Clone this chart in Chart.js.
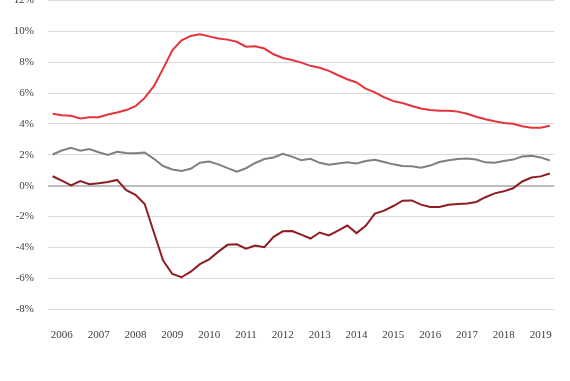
<!DOCTYPE html>
<html>
<head>
<meta charset="utf-8">
<script src="https://cdn.jsdelivr.net/npm/chart.js@4.4.0/dist/chart.umd.min.js"></script>
<style>
    html, body {
        margin: 0;
        padding: 0;
        background: #ffffff;
        overflow: hidden;
    }
    #wrap {
        position: absolute;
        left: 0;
        top: -20px;
        width: 570px;
        height: 401px;
    }
</style>
</head>
<body>
<div id="wrap"><canvas id="lineChart"></canvas></div>
<script>
// Quarters, 2005Q4 to 2019Q2
const quarters = [
    '2005Q4',
    '2006Q1', '2006Q2', '2006Q3', '2006Q4',
    '2007Q1', '2007Q2', '2007Q3', '2007Q4',
    '2008Q1', '2008Q2', '2008Q3', '2008Q4',
    '2009Q1', '2009Q2', '2009Q3', '2009Q4',
    '2010Q1', '2010Q2', '2010Q3', '2010Q4',
    '2011Q1', '2011Q2', '2011Q3', '2011Q4',
    '2012Q1', '2012Q2', '2012Q3', '2012Q4',
    '2013Q1', '2013Q2', '2013Q3', '2013Q4',
    '2014Q1', '2014Q2', '2014Q3', '2014Q4',
    '2015Q1', '2015Q2', '2015Q3', '2015Q4',
    '2016Q1', '2016Q2', '2016Q3', '2016Q4',
    '2017Q1', '2017Q2', '2017Q3', '2017Q4',
    '2018Q1', '2018Q2', '2018Q3', '2018Q4',
    '2019Q1', '2019Q2'
];

// red line
const redSeries = [
    4.66, 4.56, 4.53, 4.36, 4.43, 4.43, 4.61, 4.74, 4.90, 5.15,
    5.69, 6.45, 7.59, 8.78, 9.42, 9.71, 9.82, 9.68, 9.54, 9.47,
    9.33, 9.01, 9.04, 8.89, 8.52, 8.28, 8.15, 7.98, 7.77, 7.64,
    7.44, 7.16, 6.90, 6.69, 6.29, 6.05, 5.73, 5.48, 5.36, 5.17,
    5.00, 4.90, 4.86, 4.86, 4.80, 4.66, 4.47, 4.30, 4.17, 4.06,
    4.01, 3.85, 3.76, 3.76, 3.89
];

// grey line
const greySeries = [
    2.02, 2.28, 2.46, 2.27, 2.37, 2.17, 1.99, 2.19, 2.11, 2.10,
    2.15, 1.74, 1.27, 1.05, 0.95, 1.09, 1.49, 1.56, 1.38, 1.14,
    0.91, 1.13, 1.47, 1.73, 1.83, 2.06, 1.88, 1.65, 1.74, 1.48,
    1.36, 1.44, 1.51, 1.44, 1.60, 1.68, 1.53, 1.38, 1.28, 1.25,
    1.16, 1.30, 1.53, 1.65, 1.73, 1.76, 1.70, 1.51, 1.48, 1.60,
    1.69, 1.89, 1.93, 1.83, 1.63
];

// dark red line
const darkRedSeries = [
    0.61, 0.32, 0.01, 0.29, 0.09, 0.15, 0.24, 0.37, -0.30, -0.59,
    -1.19, -3.04, -4.86, -5.73, -5.94, -5.58, -5.09, -4.78, -4.28, -3.84,
    -3.80, -4.09, -3.88, -3.99, -3.32, -2.96, -2.94, -3.18, -3.43, -3.04,
    -3.23, -2.92, -2.59, -3.08, -2.60, -1.81, -1.62, -1.32, -0.98, -0.96,
    -1.23, -1.39, -1.39, -1.24, -1.19, -1.16, -1.06, -0.75, -0.50, -0.37,
    -0.17, 0.27, 0.53, 0.60, 0.79
];

// y axis range
const yMin = -8;
const yMax = 12;
const yStep = 2;

function makeLine(data, color) {
    return {
        data: data,
        borderColor: color,
        backgroundColor: color,
        borderWidth: 2,
        pointRadius: 0,
        tension: 0,
        fill: false
    };
}

const ctx = document.getElementById('lineChart').getContext('2d');
new Chart(ctx, {
    type: 'line',
    data: {
        labels: quarters,
        datasets: [
            makeLine(greySeries, '#808080'),
            makeLine(darkRedSeries, '#8c1d24'),
            makeLine(redSeries, '#e2343a')
        ]
    },
    options: {
        responsive: true,
        maintainAspectRatio: false,
        animation: false,
        layout: {
            padding: { top: 18, right: 15, bottom: 0, left: 0 }
        },
        plugins: {
            legend: { display: false },
            tooltip: { enabled: false }
        },
        scales: {
            x: {
                offset: true,
                grid: { display: false, drawTicks: false },
                border: { display: false },
                ticks: {
                    autoSkip: false,
                    maxRotation: 0,
                    padding: 20,
                    color: '#404040',
                    font: { family: '"Liberation Serif", serif', size: 11 },
                    callback: function(value, index) {
                        const q = quarters[index];
                        return q.endsWith('Q1') ? q.slice(0, 4) : '';
                    }
                },
                afterFit: function(scale) {
                    scale.height = 72;
                }
            },
            y: {
                min: yMin,
                max: yMax,
                grid: {
                    drawTicks: false,
                    color: function(c) {
                        return c.tick && c.tick.value === 0 ? '#bdbdbd' : '#d9d9d9';
                    },
                    lineWidth: function(c) {
                        return c.tick && c.tick.value === 0 ? 2 : 1;
                    }
                },
                border: { display: false },
                ticks: {
                    stepSize: yStep,
                    padding: 14,
                    color: '#404040',
                    font: { family: '"Liberation Serif", serif', size: 11 },
                    callback: function(value) {
                        return value + '%';
                    }
                },
                afterFit: function(scale) {
                    scale.width = 48;
                }
            }
        }
    }
});
</script>
</body>
</html>
